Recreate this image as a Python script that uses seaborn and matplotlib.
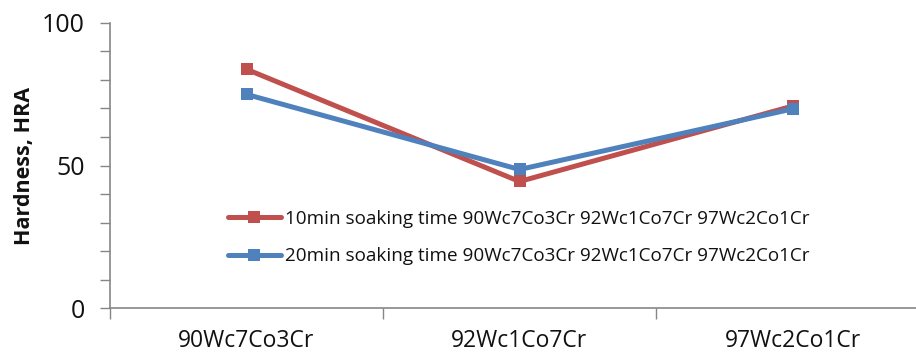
import matplotlib
matplotlib.use("Agg")
import matplotlib.pyplot as plt
import seaborn as sns
import pandas as pd
from matplotlib.ticker import MultipleLocator, FixedLocator

# Hardness readings per alloy for each soaking time
alloys = ["90Wc7Co3Cr", "92Wc1Co7Cr", "97Wc2Co1Cr"]
hardness_10min = [83.7, 44.4, 70.8]
hardness_20min = [74.9, 48.6, 69.8]
series_names = [
    "10min soaking time 90Wc7Co3Cr 92Wc1Co7Cr 97Wc2Co1Cr",
    "20min soaking time 90Wc7Co3Cr 92Wc1Co7Cr 97Wc2Co1Cr",
]
y_ticks = [0, 50, 100]

df = pd.DataFrame({
    "alloy": alloys * 2,
    "pos": list(range(len(alloys))) * 2,
    "hardness": hardness_10min + hardness_20min,
    "series": [series_names[0]] * 3 + [series_names[1]] * 3,
})

sns.set_theme(style="white")
plt.rcParams["font.family"] = ["Open Sans", "DejaVu Sans"]

fig = plt.figure(figsize=(9.16, 3.55), dpi=100)
ax = fig.add_axes([110 / 916, 1 - 308.3 / 355, 819 / 916, (308.3 - 22.7) / 355])

palette = {series_names[0]: "#C0504D", series_names[1]: "#4F81BD"}
sns.lineplot(data=df, x="pos", y="hardness", hue="series", palette=palette,
             marker="s", markersize=9, markeredgewidth=0, linewidth=3.6,
             dashes=False, ax=ax, clip_on=False)

ax.set_xlim(-0.5, 2.5)
ax.set_ylim(0, 100)
ax.set_xticks(range(len(alloys)))
ax.set_xticklabels(alloys, fontsize=16.5, color="#111111")
ax.xaxis.set_minor_locator(FixedLocator([-0.5, 0.5, 1.5, 2.5]))
ax.tick_params(axis="x", which="major", length=0, pad=15)
ax.tick_params(axis="x", which="minor", length=8, width=1, color="#868686", direction="out", bottom=True)
ax.set_yticks(y_ticks)
ax.set_yticklabels([str(v) for v in y_ticks], fontsize=18, color="#111111")
ax.yaxis.set_minor_locator(MultipleLocator(10))
ax.tick_params(axis="y", which="both", length=7, width=1, color="#868686", direction="out", left=True, pad=11)

for side in ("top", "right"):
    ax.spines[side].set_visible(False)
for side in ("left", "bottom"):
    ax.spines[side].set_color("#868686")
    ax.spines[side].set_linewidth(1.2)

ax.set_xlabel("")
ax.set_ylabel("Hardness, HRA", fontsize=15.5, fontweight="bold", labelpad=5, color="#111111")

leg = ax.legend(loc="center left", bbox_to_anchor=(0.144, 0.248), frameon=False,
                fontsize=13.6, handlelength=2.8, handletextpad=0.2,
                labelspacing=1.05, borderpad=0, borderaxespad=0, numpoints=1)
for t in leg.get_texts():
    t.set_color("#111111")

fig.savefig("out.png", dpi=100)
